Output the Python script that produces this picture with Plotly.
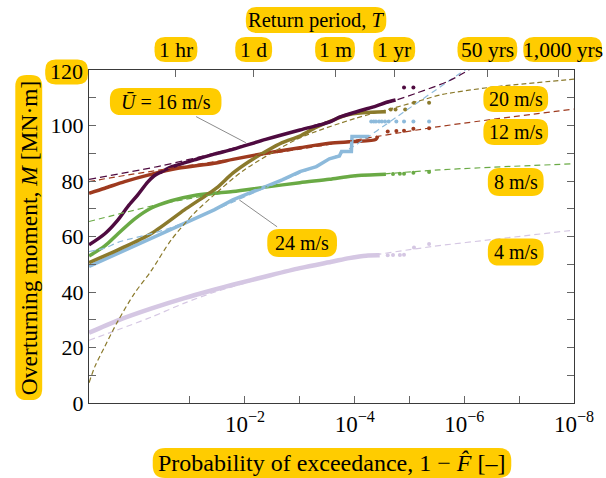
import math
import plotly.graph_objects as go

FONT = "Liberation Serif, Times New Roman, serif"
GOLD = "#FFCC00"

# Exceedance probability (1 - F) and overturning moment M [MN·m] for each mean wind speed.
# *_tail: sparse largest observations; *_fit: fitted extreme-value distribution.
q_4 = [0.9991, 0.875, 0.406, 0.120, 0.0360, 0.0166, 0.0042, 1.0e-3, 2.5e-4, 1.26e-4, 6.2e-5, 3.5e-5]
m_4 = [25.3, 29.8, 34.0, 37.8, 40.8, 42.6, 45.6, 48.6, 51.0, 52.2, 53.1, 53.2]
q_4_tail = [2.5e-5, 2.0e-5, 1.5e-5, 1.26e-5, 8.3e-6, 4.4e-6]
m_4_tail = [53.2, 53.3, 53.3, 53.4, 56.0, 57.3]
q_4_fit = [0.9991, 0.875, 0.406, 0.120, 0.0360, 0.0042, 1.0e-3, 1.0e-4, 3.8e-6, 2.3e-7, 1.0e-8]
m_4_fit = [22.6, 26.4, 30.9, 36.0, 39.9, 45.3, 48.3, 52.2, 56.4, 59.2, 62.3]

q_8 = [0.9991, 0.973, 0.875, 0.647, 0.406, 0.199, 0.0808, 0.0360, 0.0166, 0.0042, 1.0e-3, 2.9e-4, 1.07e-4, 2.7e-5]
m_8 = [53.0, 56.6, 61.0, 66.3, 70.2, 72.9, 74.8, 75.6, 76.2, 77.8, 79.4, 80.6, 81.8, 82.4]
q_8_tail = [2.0e-5, 1.5e-5, 1.26e-5, 8.5e-6, 4.4e-6]
m_8_tail = [82.5, 82.6, 82.6, 83.0, 83.2]
q_8_fit = [0.9991, 0.254, 0.0103, 1.0e-4, 2.9e-6, 1.0e-8]
m_8_fit = [65.4, 72.0, 76.8, 81.6, 84.0, 86.2]

q_12 = [0.9991, 0.973, 0.793, 0.406, 0.155, 0.0360, 0.0166, 0.0042, 1.0e-3, 2.9e-4, 1.07e-4, 4.1e-5, 3.8e-5]
m_12 = [75.6, 77.4, 79.8, 82.4, 84.6, 86.4, 87.8, 90.0, 92.0, 93.6, 94.2, 95.0, 96.2]
q_12_tail = [2.5e-5, 1.74e-5, 1.26e-5, 8.5e-6, 4.4e-6]
m_12_tail = [97.8, 98.0, 98.1, 98.8, 99.0]
q_12_fit = [0.9991, 0.875, 0.0985, 1.0e-3, 2.9e-6, 1.0e-8]
m_12_fit = [79.8, 81.6, 85.6, 91.5, 99.6, 105.9]

q_16 = [0.9991, 0.973, 0.875, 0.747, 0.596, 0.450, 0.365, 0.285, 0.212, 0.155, 0.0808, 0.0360,
        0.0166, 0.0042, 1.0e-3, 2.9e-4, 1.9e-4, 8.1e-5, 4.1e-5, 2.7e-5, 1.8e-5]
m_16 = [57.0, 61.0, 66.0, 70.8, 75.0, 79.6, 81.9, 83.3, 84.8, 85.8, 87.6, 89.7,
        91.4, 95.0, 98.4, 101.2, 103.0, 105.3, 107.0, 108.3, 109.2]
q_16_tail = [1.26e-5, 8.5e-6]
m_16_tail = [113.7, 113.7]
q_16_fit = [0.9991, 0.285, 0.0360, 1.0e-3, 3.2e-5, 7.6e-6, 1.9e-6, 7.9e-7]
m_16_fit = [80.6, 85.5, 90.0, 98.5, 107.5, 111.6, 116.1, 120.3]

q_20 = [0.9991, 0.875, 0.406, 0.120, 0.0661, 0.0329, 0.0166, 0.0084, 0.0042, 0.0021,
        1.0e-3, 5.0e-4, 2.9e-4, 1.4e-4, 7.1e-5, 2.7e-5]
m_20 = [50.6, 55.2, 61.0, 69.6, 73.2, 77.4, 82.8, 87.0, 90.6, 93.8,
        96.2, 99.4, 101.4, 103.8, 104.6, 105.0]
q_20_tail = [2.2e-5, 1.8e-5, 1.2e-5, 8.3e-6, 4.4e-6]
m_20_tail = [105.8, 105.8, 105.8, 108.2, 108.2]
q_20_fit = [0.9991, 0.9958, 0.973, 0.875, 0.647, 0.406, 0.199, 0.0808, 0.0360, 0.0103,
            1.0e-3, 1.0e-4, 1.8e-5, 6.3e-6, 2.5e-6, 3.2e-7, 1.0e-8]
m_20_fit = [7.3, 13.2, 20.4, 29.6, 39.5, 47.5, 58.8, 68.4, 75.0, 84.0,
            95.5, 102.5, 106.5, 109.0, 111.2, 113.8, 116.7]

q_24 = [0.9991, 0.875, 0.406, 0.120, 0.0360, 0.0166, 0.0042, 0.0021, 1.0e-3, 5.0e-4,
        2.9e-4, 1.9e-4, 1.74e-4, 1.15e-4, 1.12e-4, 5.4e-5]
m_24 = [49.2, 54.0, 59.4, 64.8, 69.6, 73.2, 77.8, 80.4, 83.4, 85.2,
        88.0, 89.0, 90.6, 90.6, 96.0, 96.0]
q_24_tail = [5.0e-5, 4.5e-5, 4.1e-5, 3.6e-5, 3.2e-5, 2.8e-5, 2.4e-5, 1.74e-5, 1.26e-5, 8.5e-6, 4.4e-6]
m_24_tail = [101.4] * 11
q_24_fit = [0.9991, 0.973, 0.875, 0.254, 0.0322, 0.0033, 6.3e-4, 1.07e-4, 1.6e-5, 1.9e-6, 8.9e-7]
m_24_fit = [54.6, 55.8, 57.9, 62.4, 69.9, 78.6, 84.5, 92.4, 103.5, 116.1, 120.5]

# Return periods for 10-minute samples, in hours
return_labels = ["1 hr", "1 d", "1 m", "1 yr", "50 yrs", "1,000 yrs"]
return_hours = [1, 24, 730, 8760, 438000, 8760000]

prob_ticks = [1e-1, 1e-2, 1e-3, 1e-4, 1e-5, 1e-6, 1e-7, 1e-8]
prob_text = ["", "10<sup>−2</sup>", "", "10<sup>−4</sup>", "", "10<sup>−6</sup>", "", "10<sup>−8</sup>"]

C4, C8, C12, C16, C20, C24 = "#D5C7E3", "#6AAA45", "#9E3A1F", "#4F0B40", "#8B7A2C", "#8DBADB"

# Figure geometry (pixels)
W, H = 606, 478
ML, MR, MT, MB = 89, 30, 70, 75
PW, PH = W - ML - MR, H - MT - MB


def gumbel(q):
    """Gumbel reduced variate of an exceedance probability (probability-paper axis)."""
    return -math.log(-math.log1p(-q))


def gx(qs):
    return [gumbel(v) for v in qs]


X_RANGE = [-1.95, gumbel(1e-8)]


def px_from_x(xv):
    return ML + PW * (xv - X_RANGE[0]) / (X_RANGE[1] - X_RANGE[0])


def to_paper(px, py):
    return (px - ML) / PW, (MT + PH - py) / PH


fig = go.Figure()

series = [
    (q_4, m_4, q_4_tail, m_4_tail, q_4_fit, m_4_fit, C4, 4.5, "6px,4px", "spline"),
    (q_8, m_8, q_8_tail, m_8_tail, q_8_fit, m_8_fit, C8, 3.5, "6px,4px", "spline"),
    (q_12, m_12, q_12_tail, m_12_tail, q_12_fit, m_12_fit, C12, 3.5, "6px,4px", "spline"),
    (q_24, m_24, q_24_tail, m_24_tail, q_24_fit, m_24_fit, C24, 3.5, "6px,4px", "linear"),
    (q_20, m_20, q_20_tail, m_20_tail, q_20_fit, m_20_fit, C20, 3.5, "5px,3px", "spline"),
    (q_16, m_16, q_16_tail, m_16_tail, q_16_fit, m_16_fit, C16, 3.5, "7px,4px", "spline"),
]

for q, m, qt, mt, qf, mf, col, w, dash, shape in series:
    fig.add_trace(go.Scatter(x=gx(q), y=m, mode="lines",
                             line=dict(color=col, width=w, shape=shape, smoothing=0.8),
                             showlegend=False, hoverinfo="skip"))
    fig.add_trace(go.Scatter(x=gx(qt), y=mt, mode="markers",
                             marker=dict(color=col, size=4, line=dict(width=0)),
                             showlegend=False, hoverinfo="skip"))
for q, m, qt, mt, qf, mf, col, w, dash, shape in series:
    fig.add_trace(go.Scatter(x=gx(qf), y=mf, mode="lines",
                             line=dict(color=col, width=1.2, dash=dash, shape="spline", smoothing=0.8),
                             showlegend=False, hoverinfo="skip"))

# Leader lines from the labels to their curves
lead_16_q, lead_16_m = [0.0752, 0.00963], [103.2, 93.8]
lead_24_q, lead_24_m = [0.0127, 0.0026], [73.2, 63.5]
for lq, lm in [(lead_16_q, lead_16_m), (lead_24_q, lead_24_m)]:
    fig.add_trace(go.Scatter(x=gx(lq), y=lm, mode="lines", line=dict(color="#8c8c8c", width=1),
                             showlegend=False, hoverinfo="skip"))

# Invisible trace that anchors the return-period axis on top
return_q = [1.0 / (6.0 * h) for h in return_hours]
fig.add_trace(go.Scatter(x=gx(return_q), y=[0] * len(return_q), xaxis="x2", mode="markers",
                         marker=dict(opacity=0), showlegend=False, hoverinfo="skip"))


def pill_path(cx, cy, w, h):
    """Rounded highlight box around a label, centred at (cx, cy) in pixels."""
    r = min(w, h) * 0.42
    x0, x1, y0, y1 = cx - w / 2, cx + w / 2, cy - h / 2, cy + h / 2
    pts = [("M", [(x0 + r, y0)]), ("L", [(x1 - r, y0)]), ("Q", [(x1, y0), (x1, y0 + r)]),
           ("L", [(x1, y1 - r)]), ("Q", [(x1, y1), (x1 - r, y1)]), ("L", [(x0 + r, y1)]),
           ("Q", [(x0, y1), (x0, y1 - r)]), ("L", [(x0, y0 + r)]), ("Q", [(x0, y0), (x0 + r, y0)])]
    out = []
    for cmd, coords in pts:
        s = " ".join("%.5f,%.5f" % to_paper(a, b) for a, b in coords)
        out.append(cmd + " " + s)
    return " ".join(out) + " Z"


def label(text, cx, cy, w, h, size=20, angle=0):
    fig.add_shape(type="path", path=pill_path(cx, cy, w, h), xref="paper", yref="paper",
                  fillcolor=GOLD, line=dict(width=0), layer="above")
    xp, yp = to_paper(cx, cy)
    fig.add_annotation(text=text, x=xp, y=yp, xref="paper", yref="paper", showarrow=False,
                       xanchor="center", yanchor="middle", textangle=angle,
                       font=dict(family=FONT, size=size, color="black"))


label("<i>Ū</i> = 16 m/s", 166, 101.5, 112, 27)
label("24 m/s", 303, 243, 70, 28)
label("20 m/s", 517.5, 99, 65, 26)
label("12 m/s", 517.5, 132, 65, 26)
label("8 m/s", 517.5, 182, 56, 28)
label("4 m/s", 517.5, 252, 56, 27)

top_widths = [43, 37, 40, 42, 60, 79]
for txt, qv, bw in zip(return_labels, return_q, top_widths):
    label(txt, px_from_x(gumbel(qv)) + (4 if bw > 70 else 0), 49.5, bw, 25, size=21.5)
label("Return period, <i>T</i>", 317, 20, 141, 26, size=20.5)
label("Probability of exceedance, 1 − <i>F̂</i> [–]", 333, 463, 360, 30, size=24)
label("Overturning moment, <i>M</i> [MN·m]", 28.5, 237.5, 27, 325, size=23.5, angle=-90)
label("120", 66.5, 72, 43, 25, size=22)

axis_line = dict(showline=True, linecolor="#3a3a3a", linewidth=1.3, showgrid=False, zeroline=False)

fig.update_layout(
    width=W, height=H,
    margin=dict(l=ML, r=MR, t=MT, b=MB),
    paper_bgcolor="white", plot_bgcolor="white",
    font=dict(family=FONT, size=20, color="black"),
    xaxis=dict(range=X_RANGE, tickvals=gx(prob_ticks), ticktext=prob_text,
               ticks="inside", ticklen=7, tickcolor="#666", mirror=True,
               tickfont=dict(family=FONT, size=23, color="black"), **axis_line),
    xaxis2=dict(range=X_RANGE, overlaying="x", side="top", tickvals=gx(return_q),
                showticklabels=False, ticks="inside", ticklen=7, tickcolor="#666",
                showline=False, showgrid=False, zeroline=False),
    yaxis=dict(range=[0, 120], tickvals=list(range(0, 121, 10)),
               ticktext=["0", "", "20", "", "40", "", "60", "", "80", "", "100", "", ""],
               ticks="inside", ticklen=7, tickcolor="#666", mirror="ticks",
               tickfont=dict(family=FONT, size=22, color="black"), **axis_line),
)

fig.write_html("out.html")
